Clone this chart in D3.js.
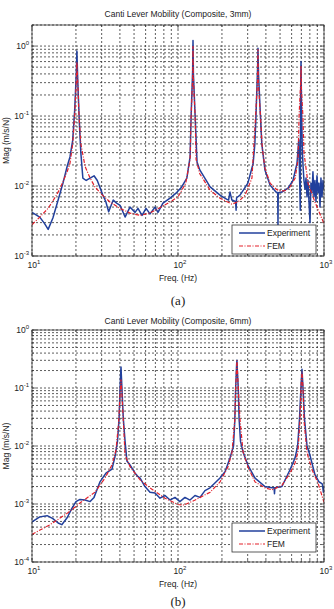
<!DOCTYPE html>
<html>
<head>
<meta charset="utf-8">
<script src="https://cdn.jsdelivr.net/npm/d3@7"></script>
<style>
  body { margin: 0; background: #fff; }
  text { font-family: "Liberation Sans", Arial, sans-serif; fill: #222; }
  .cap { font-family: "Liberation Serif", "Times New Roman", serif; }
</style>
</head>
<body>
<div id="chart"></div>
<script>
// data: [freq (Hz), mag (m/s/N)]
var expA = [[10,4.2e-3],[11.3,3.6e-3],[12.2,2.9e-3],[12.9,2.4e-3],[13.9,3.5e-3],[15.1,6.3e-3],[16.3,0.011],
  [17.4,0.019],[18.2,0.026],[19.0,0.045],[19.6,0.12],[20.1,0.4],[20.3,0.85],[20.6,0.3],[21.1,0.08],[21.6,0.03],
  [22.3,0.013],[23.5,0.012],[25,0.013],[26.6,0.014],[28,0.012],[30.5,7.5e-3],[32,6.0e-3],[33.5,4.3e-3],[36,6.3e-3],
  [38,5.7e-3],[40.1,5.3e-3],[43.4,3.6e-3],[46.9,5.0e-3],[50.8,4.2e-3],[53.2,4.8e-3],[56.7,3.8e-3],[60.4,4.8e-3],
  [64.3,4.0e-3],[69.6,5.0e-3],[72.9,4.2e-3],[78.9,5.7e-3],[88.2,6.7e-3],[96.9,7.9e-3],[106,9.7e-3],[115,0.013],
  [121,0.026],[123,0.1],[126,0.45],[126.7,1.2],[127.5,0.4],[131,0.1],[135,0.022],[141,0.017],[166,9.7e-3],
  [194,7.4e-3],[215,6.5e-3],[222,6.3e-3],[227,8.2e-3],[234,6.3e-3],[248,6.0e-3],[250,4.5e-3],[252,6.8e-3],
  [266,7.4e-3],[301,0.011],[327,0.021],[336,0.04],[342,0.1],[351,0.5],[353,0.93],[356,0.4],[367,0.1],[375,0.04],
  [394,0.017],[427,0.0103],[469,8.2e-3],[482,8.0e-3],[484,2.8e-3],[486,8.0e-3],[515,8.2e-3],[567,9.3e-3],
  [613,0.012],[653,0.021],[672,0.046],[688,4.5e-3],[692,0.2],[696,0.6],[702,0.12],[710,0.035],[718,0.02],
  [729,0.012],[741,9e-3],[753,0.013],[765,7e-3],[777,0.012],[789,6e-3],[802,3e-3],[814,0.011],[828,8e-3],
  [840,0.016],[854,7e-3],[867,0.012],[881,6e-3],[895,0.014],[910,8e-3],[924,0.011],[939,5e-3],[953,0.013],
  [969,7e-3],[984,0.012],[1000,9e-3]];

var femA = [[10,2.8e-3],[11.3,3.6e-3],[12.9,4.8e-3],[14.4,6.9e-3],[15.5,9.0e-3],[17.4,0.016],[18.2,0.021],
  [19.0,0.04],[19.6,0.1],[20.1,0.3],[20.3,0.59],[20.6,0.28],[21.0,0.1],[21.6,0.04],[23.1,0.019],[25,0.013],
  [27,9.7e-3],[30,7.6e-3],[34.2,5.9e-3],[40,4.8e-3],[47,4.1e-3],[55,3.8e-3],[64,4.1e-3],[75,4.9e-3],
  [88,5.9e-3],[100,7.0e-3],[113,0.011],[121,0.024],[123,0.1],[126,0.35],[126.7,1.0],[127.5,0.35],[131,0.1],
  [133,0.024],[141,0.015],[166,8.7e-3],[194,6.7e-3],[234,5.5e-3],[260,6.0e-3],[288,7.4e-3],[321,0.013],
  [330,0.035],[340,0.1],[351,0.35],[353,0.9],[355,0.3],[367,0.1],[378,0.035],[394,0.018],[427,0.011],
  [470,9.0e-3],[500,8.5e-3],[540,8.6e-3],[585,9.7e-3],[635,0.013],[664,0.024],[675,0.1],[692,0.3],[696,0.52],
  [700,0.25],[717,0.1],[729,0.03],[777,0.011],[867,5.9e-3],[1000,2.9e-3]];

var expB = [[10,4.9e-4],[11.3,6.0e-4],[12.7,6.3e-4],[13.9,5.6e-4],[15.1,4.7e-4],[16.0,4.4e-4],[17.4,5.8e-4],
  [18.8,8.5e-4],[20.0,1.1e-3],[21.3,1.2e-3],[23.1,1.17e-3],[25,1.1e-3],[26.6,1.3e-3],[29.2,2.4e-3],[32.1,3.4e-3],
  [35.3,4.0e-3],[37,6.5e-3],[38.5,0.012],[39.5,0.03],[40.1,0.1],[40.5,0.18],[40.7,0.23],[41.0,0.15],[41.3,0.1],
  [42.2,0.03],[43.4,0.012],[44.7,5.5e-3],[46.9,4.7e-3],[50.8,3.4e-3],[53,3.0e-3],[55,2.8e-3],[59.4,2.0e-3],
  [64.3,1.6e-3],[69.6,1.55e-3],[75.3,1.26e-3],[81.5,1.4e-3],[88.2,1.17e-3],[95.3,1.3e-3],[103,1.1e-3],
  [111.6,1.3e-3],[120.8,1.17e-3],[130.7,1.4e-3],[141.5,1.3e-3],[153,1.7e-3],[165.6,1.9e-3],[179,2.3e-3],
  [194,2.8e-3],[210,3.6e-3],[227,6.2e-3],[240,0.01],[245,0.028],[248.3,0.1],[252,0.25],[253.4,0.3],[255,0.2],
  [258.6,0.1],[262,0.03],[268,0.012],[279,7.9e-3],[301,4.7e-3],[337,2.8e-3],[394,2.0e-3],[440,1.9e-3],
  [455,1.9e-3],[458,1.5e-3],[461,1.9e-3],[515,2.0e-3],[585,3.9e-3],[633,6.2e-3],[660,0.01],[680,0.03],
  [695,0.1],[706.7,0.21],[718,0.1],[735,0.03],[765,0.01],[802,6.9e-3],[867,3.2e-3],[924,2.4e-3],[953,2.3e-3],
  [975,2.2e-3],[990,1.6e-3],[1000,2.0e-3]];

var femB = [[10,3.0e-4],[13.3,4.4e-4],[17.4,6.9e-4],[21.3,1.04e-3],[27,1.6e-3],[31.6,2.8e-3],[35.3,4.7e-3],
  [37.6,8.5e-3],[39.2,0.025],[40.1,0.08],[40.7,0.14],[41.3,0.08],[42.3,0.025],[43.4,7e-3],[46.9,4.4e-3],
  [55,2.6e-3],[64.3,1.9e-3],[81.5,1.26e-3],[100,9.8e-4],[110,9.6e-4],[131,1.17e-3],[166,1.6e-3],[194,2.4e-3],
  [220,4.4e-3],[234,7.6e-3],[245,0.028],[248.3,0.1],[253.4,0.3],[258.6,0.1],[266,0.028],[279,7.9e-3],
  [301,4.4e-3],[337,2.4e-3],[394,1.9e-3],[440,1.75e-3],[515,2.1e-3],[585,3.4e-3],[633,5.1e-3],[663,7.9e-3],
  [685,0.028],[695,0.1],[706.7,0.19],[718,0.1],[729,0.028],[765,7.6e-3],[828,3.9e-3],[910,2.3e-3],[1000,1.07e-3]];

var titles = ["Canti Lever Mobility (Composite, 3mm)", "Canti Lever Mobility (Composite, 6mm)"];
var captions = ["(a)", "(b)"];
var seriesNames = ["Experiment", "FEM"];
var xTickVals = [10, 100, 1000];
var yTicksA = [1e-3, 1e-2, 1e-1, 1];
var yTicksB = [1e-4, 1e-3, 1e-2, 1e-1, 1];

var svg = d3.select("#chart").append("svg")
    .attr("width", 334).attr("height", 609);

var panels = [
  {exp: expA, fem: femA, top: 25, bottom: 256, ydom: [1e-3, 2], yticks: yTicksA, title: titles[0], cap: captions[0], titleY: 17, capY: 305, legY: 225},
  {exp: expB, fem: femB, top: 330, bottom: 562, ydom: [1e-4, 1], yticks: yTicksB, title: titles[1], cap: captions[1], titleY: 324, capY: 606, legY: 523}
];

var left = 32, right = 324;

panels.forEach(function(p, i) {
  var x = d3.scaleLog().domain([10, 1000]).range([left, right]);
  var y = d3.scaleLog().domain(p.ydom).range([p.bottom, p.top]);
  var g = svg.append("g");

  var clipId = "clip" + i;
  g.append("clipPath").attr("id", clipId).append("rect")
    .attr("x", left).attr("y", p.top).attr("width", right - left).attr("height", p.bottom - p.top);

  // dotted grid (major + minor, matlab style)
  g.append("g").selectAll("line").data(x.ticks()).enter().append("line")
    .attr("x1", d => x(d)).attr("x2", d => x(d)).attr("y1", p.top).attr("y2", p.bottom)
    .attr("stroke", "#333").attr("stroke-width", 0.8).attr("stroke-dasharray", "2,2");
  g.append("g").selectAll("line").data(y.ticks()).enter().append("line")
    .attr("y1", d => y(d)).attr("y2", d => y(d)).attr("x1", left).attr("x2", right)
    .attr("stroke", "#333").attr("stroke-width", 0.8).attr("stroke-dasharray", "2,2");

  // inward ticks
  var tickG = g.append("g").attr("stroke", "#333").attr("stroke-width", 0.7);
  x.ticks().forEach(function(t) {
    var len = xTickVals.indexOf(t) >= 0 ? 4 : 2;
    tickG.append("line").attr("x1", x(t)).attr("x2", x(t)).attr("y1", p.bottom).attr("y2", p.bottom - len);
    tickG.append("line").attr("x1", x(t)).attr("x2", x(t)).attr("y1", p.top).attr("y2", p.top + len);
  });
  y.ticks().forEach(function(t) {
    var len = p.yticks.indexOf(t) >= 0 ? 4 : 2;
    tickG.append("line").attr("y1", y(t)).attr("y2", y(t)).attr("x1", left).attr("x2", left + len);
    tickG.append("line").attr("y1", y(t)).attr("y2", y(t)).attr("x1", right).attr("x2", right - len);
  });

  // curves
  var line = d3.line().x(d => x(d[0])).y(d => y(d[1]));
  var curves = g.append("g").attr("clip-path", "url(#" + clipId + ")");
  curves.append("path").datum(p.exp).attr("d", line)
    .attr("fill", "none").attr("stroke", "#22409c").attr("stroke-width", 1.5).attr("stroke-linejoin", "round");
  curves.append("path").datum(p.fem).attr("d", line)
    .attr("fill", "none").attr("stroke", "#e3202b").attr("stroke-width", 1.2)
    .attr("stroke-dasharray", "4,1.5,1,1.5");

  // box
  g.append("rect").attr("x", left).attr("y", p.top).attr("width", right - left).attr("height", p.bottom - p.top)
    .attr("fill", "none").attr("stroke", "#333").attr("stroke-width", 0.8);

  // x tick labels with superscripts
  xTickVals.forEach(function(t) {
    var txt = g.append("text").attr("x", x(t) + 2).attr("y", p.bottom + 12)
      .attr("text-anchor", "middle").attr("font-size", 8.5);
    txt.append("tspan").text("10");
    txt.append("tspan").attr("dy", -4).attr("font-size", 6).text(Math.round(Math.log10(t)));
  });
  p.yticks.forEach(function(t) {
    var txt = g.append("text").attr("x", 29).attr("y", y(t) + 3)
      .attr("text-anchor", "end").attr("font-size", 8.5);
    txt.append("tspan").text("10");
    txt.append("tspan").attr("dy", -4).attr("font-size", 6).text(Math.round(Math.log10(t)));
  });

  // titles & labels
  g.append("text").attr("x", 178).attr("y", p.titleY).attr("text-anchor", "middle")
    .attr("font-size", 8.5).text(p.title);
  g.append("text").attr("x", 178).attr("y", p.bottom + 25).attr("text-anchor", "middle")
    .attr("font-size", 8.5).text("Freq. (Hz)");
  g.append("text").attr("transform", "rotate(-90)")
    .attr("x", -(p.top + p.bottom) / 2).attr("y", 8.5).attr("text-anchor", "middle")
    .attr("font-size", 8.5).text("Mag (m/s/N)");
  g.append("text").attr("class", "cap").attr("x", 178).attr("y", p.capY).attr("text-anchor", "middle")
    .attr("font-size", 13).text(p.cap);

  // legend
  var leg = g.append("g").attr("transform", "translate(232," + p.legY + ")");
  leg.append("rect").attr("width", 84).attr("height", 29).attr("fill", "#fff")
    .attr("stroke", "#333").attr("stroke-width", 0.8);
  leg.append("line").attr("x1", 7).attr("x2", 33).attr("y1", 8).attr("y2", 8)
    .attr("stroke", "#22409c").attr("stroke-width", 1.5);
  leg.append("line").attr("x1", 7).attr("x2", 33).attr("y1", 21).attr("y2", 21)
    .attr("stroke", "#e3202b").attr("stroke-width", 1.2).attr("stroke-dasharray", "4,1.5,1,1.5");
  leg.append("text").attr("x", 35).attr("y", 11).attr("font-size", 8.5).text(seriesNames[0]);
  leg.append("text").attr("x", 35).attr("y", 24).attr("font-size", 8.5).text(seriesNames[1]);
});
</script>
</body>
</html>
